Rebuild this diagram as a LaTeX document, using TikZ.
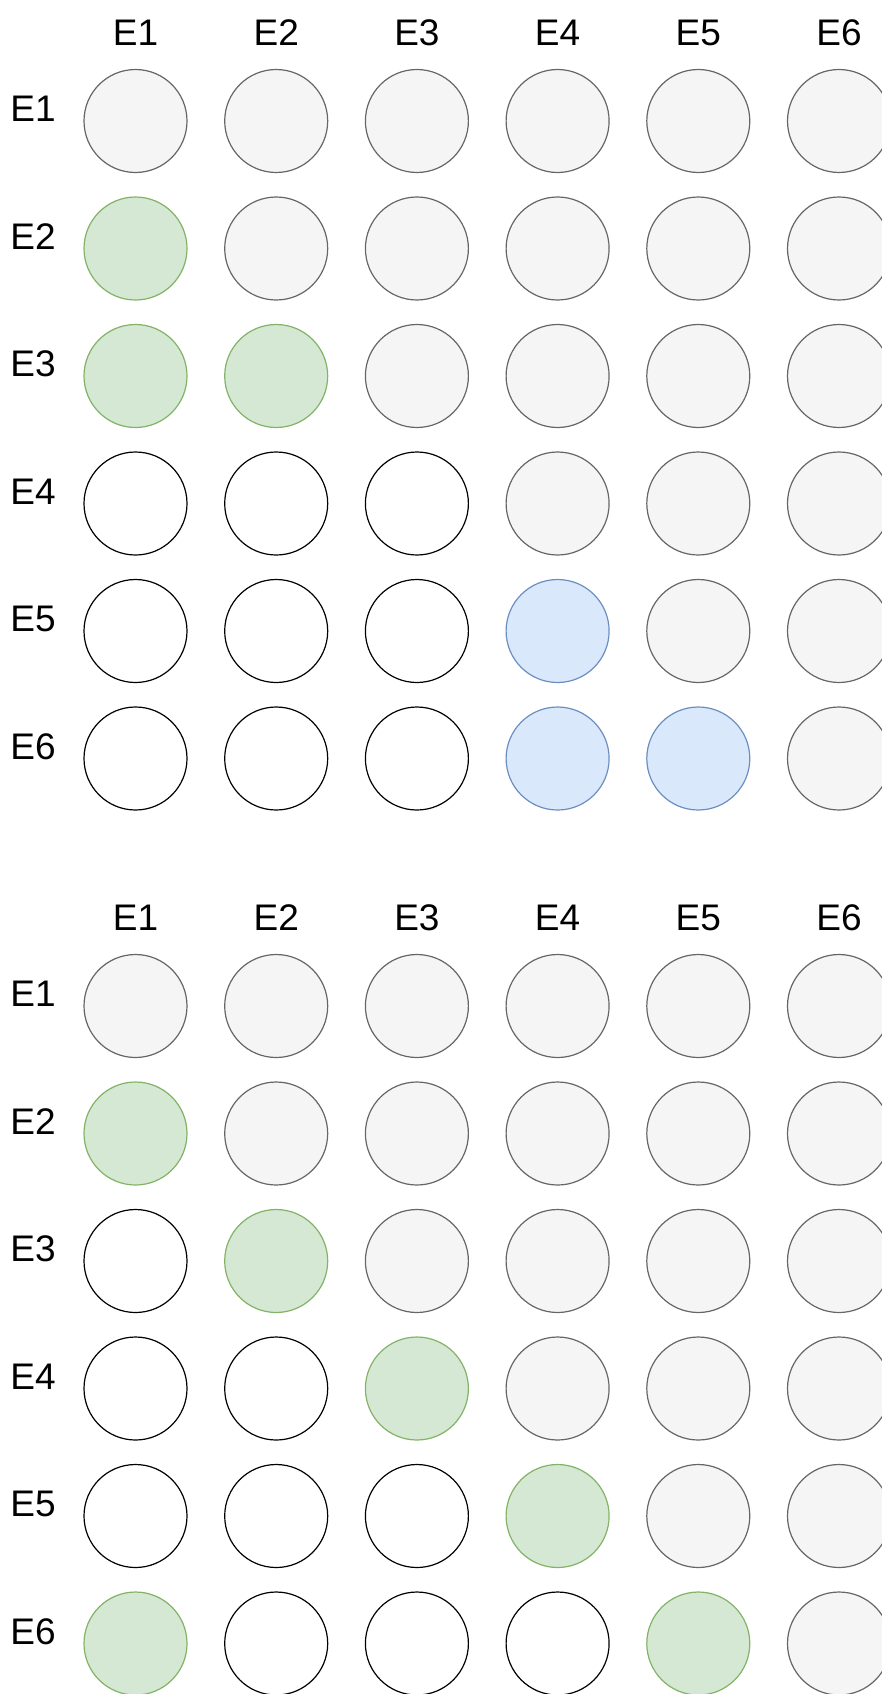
\documentclass[tikz,border=0pt]{standalone}
\usepackage{fontspec}
\setmainfont{Liberation Sans}
\definecolor{idlefill}{HTML}{F5F5F5}
\definecolor{idleline}{HTML}{666666}
\definecolor{donefill}{HTML}{D5E8D4}
\definecolor{doneline}{HTML}{82B366}
\definecolor{linkfill}{HTML}{DAE8FC}
\definecolor{linkline}{HTML}{6C8EBF}

\begin{document}
\begin{tikzpicture}[
    x=1pt, y=-1pt,
    % Define cell styles
    cell/.style={circle, minimum size=103pt, inner sep=0pt, line width=1.2pt},
    idle/.style={cell, draw=idleline, fill=idlefill},
    done/.style={cell, draw=doneline, fill=donefill},
    link/.style={cell, draw=linkline, fill=linkfill},
    open/.style={cell, draw=black, fill=white},
    head/.style={font=\fontsize{37}{44}\selectfont, inner sep=0pt}
]

% Common grid positions
\def\colx{135.5}
\def\dx{140.7}
\def\rowy{121}
\def\dy{127.5}

\useasboundingbox (0,0) rectangle (881,1694);

% Grid 1: top matrix
\begin{scope}
    \foreach \j in {1,...,6}
        \node[head] (th-\j) at ({\colx+(\j-1)*\dx},33) {E\j};
    \foreach \i in {1,...,6}
        \node[head] (tr-\i) at (33,{\rowy+(\i-1)*\dy-12}) {E\i};
    \foreach \codes [count=\i] in {
        {idle,idle,idle,idle,idle,idle},
        {done,idle,idle,idle,idle,idle},
        {done,done,idle,idle,idle,idle},
        {open,open,open,idle,idle,idle},
        {open,open,open,link,idle,idle},
        {open,open,open,link,link,idle}}
        \foreach \st [count=\j] in \codes
            \node[\st] (t-\i-\j) at ({\colx+(\j-1)*\dx},{\rowy+(\i-1)*\dy}) {};
\end{scope}

% Grid 2: bottom matrix
\begin{scope}[shift={(0,885)}] % Shift down for next grid
    \foreach \j in {1,...,6}
        \node[head] (bh-\j) at ({\colx+(\j-1)*\dx},33) {E\j};
    \foreach \i in {1,...,6}
        \node[head] (br-\i) at (33,{\rowy+(\i-1)*\dy-12}) {E\i};
    \foreach \codes [count=\i] in {
        {idle,idle,idle,idle,idle,idle},
        {done,idle,idle,idle,idle,idle},
        {open,done,idle,idle,idle,idle},
        {open,open,done,idle,idle,idle},
        {open,open,open,done,idle,idle},
        {done,open,open,open,done,idle}}
        \foreach \st [count=\j] in \codes
            \node[\st] (b-\i-\j) at ({\colx+(\j-1)*\dx},{\rowy+(\i-1)*\dy}) {};
\end{scope}

\end{tikzpicture}
\end{document}
